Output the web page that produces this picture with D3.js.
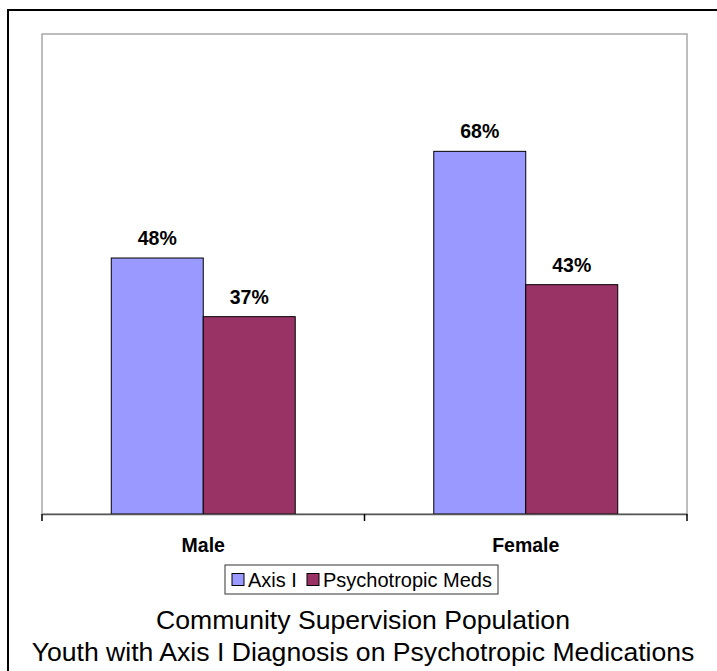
<!DOCTYPE html>
<html>
<head>
<meta charset="utf-8">
<script src="https://cdn.jsdelivr.net/npm/d3@7"></script>
<style>
  html, body { margin: 0; padding: 0; background: #fff; }
  svg { display: block; font-family: "Liberation Sans", Arial, sans-serif; }
</style>
</head>
<body>
<div id="chart"></div>
<script>
(function(){
  'use strict';

  // data
  var categories = ["Male", "Female"];
  var seriesNames = ["Axis I", "Psychotropic Meds"];
  var axisI = [0.48, 0.68];
  var psychMeds = [0.37, 0.43];
  var seriesColors = ["#9999ff", "#993366"];
  var titleLines = ["Community Supervision Population",
                    "Youth with Axis I Diagnosis on Psychotropic Medications"];

  var width = 717, height = 671;
  var plot = {left: 42, top: 34, right: 687, bottom: 514};

  var rows = categories.map(function(c, i){
    return {cat: c, values: [axisI[i], psychMeds[i]]};
  });

  var svg = d3.select("#chart")
    .append("svg")
    .attr("width", width)
    .attr("height", height);

  // outer frame (runs off the right and bottom edges)
  svg.append("rect")
    .attr("x", 8).attr("y", 10)
    .attr("width", width + 10).attr("height", height + 10)
    .attr("fill", "none")
    .attr("stroke", "#000")
    .attr("stroke-width", 2);

  var x0 = d3.scaleBand()
    .domain(categories)
    .range([plot.left, plot.right])
    .padding(0);

  var x1 = d3.scaleBand()
    .domain(seriesNames)
    .range([0, x0.bandwidth()])
    .paddingInner(0)
    .paddingOuter(0.753);

  var y = d3.scaleLinear()
    .domain([0, 0.9])
    .range([plot.bottom, plot.top]);

  // plot area border
  svg.append("rect")
    .attr("x", plot.left).attr("y", plot.top)
    .attr("width", plot.right - plot.left)
    .attr("height", plot.bottom - plot.top)
    .attr("fill", "none")
    .attr("stroke", "#a8a8a8")
    .attr("stroke-width", 1.5);

  // bars
  var groups = svg.selectAll("g.cat")
    .data(rows)
    .enter()
    .append("g")
    .attr("class", "cat")
    .attr("transform", function(d){ return "translate(" + x0(d.cat) + ",0)"; });

  groups.selectAll("rect")
    .data(function(d){
      return d.values.map(function(v, i){ return {name: seriesNames[i], value: v, idx: i}; });
    })
    .enter()
    .append("rect")
    .attr("x", function(d){ return x1(d.name); })
    .attr("y", function(d){ return y(d.value); })
    .attr("width", x1.bandwidth())
    .attr("height", function(d){ return y(0) - y(d.value); })
    .attr("fill", function(d){ return seriesColors[d.idx]; })
    .attr("stroke", "#000")
    .attr("stroke-width", 1);

  // value labels
  groups.selectAll("text.val")
    .data(function(d){
      return d.values.map(function(v, i){ return {name: seriesNames[i], value: v}; });
    })
    .enter()
    .append("text")
    .attr("class", "val")
    .attr("x", function(d){ return x1(d.name) + x1.bandwidth() / 2; })
    .attr("y", function(d){ return y(d.value) - 13; })
    .attr("text-anchor", "middle")
    .attr("font-size", "19.5px")
    .attr("font-weight", "bold")
    .attr("fill", "#000")
    .text(function(d){ return d3.format(".0%")(d.value); });

  // x axis with category labels
  var xAxis = svg.append("g")
    .attr("transform", "translate(0," + plot.bottom + ")")
    .call(d3.axisBottom(x0).tickSize(0).tickPadding(24));
  xAxis.select(".domain")
    .attr("stroke", "#555")
    .attr("stroke-width", 1.5);
  xAxis.selectAll("text")
    .attr("font-family", "Liberation Sans, Arial, sans-serif")
    .attr("font-size", "19.5px")
    .attr("font-weight", "bold")
    .attr("fill", "#000");

  // tick marks on band boundaries
  var tickPos = categories.map(function(c){ return x0(c); }).concat([plot.right]);
  svg.selectAll("line.tick")
    .data(tickPos)
    .enter()
    .append("line")
    .attr("class", "tick")
    .attr("x1", function(d){ return d; })
    .attr("x2", function(d){ return d; })
    .attr("y1", plot.bottom)
    .attr("y2", plot.bottom + 7)
    .attr("stroke", "#000")
    .attr("stroke-width", 1.5);

  // legend
  var legend = svg.append("g").attr("transform", "translate(225,565)");
  legend.append("rect")
    .attr("width", 273).attr("height", 29)
    .attr("fill", "#fff")
    .attr("stroke", "#333")
    .attr("stroke-width", 1);
  var legendX = [7, 82];
  var items = legend.selectAll("g.item")
    .data(seriesNames)
    .enter()
    .append("g")
    .attr("class", "item")
    .attr("transform", function(d, i){ return "translate(" + legendX[i] + ",0)"; });
  items.append("rect")
    .attr("y", 8.5).attr("width", 12).attr("height", 12)
    .attr("fill", function(d, i){ return seriesColors[i]; })
    .attr("stroke", "#000");
  items.append("text")
    .attr("x", 16).attr("y", 22)
    .attr("font-size", "20px")
    .attr("fill", "#000")
    .text(function(d){ return d; });

  // title below the chart
  svg.selectAll("text.title")
    .data(titleLines)
    .enter()
    .append("text")
    .attr("class", "title")
    .attr("x", 363)
    .attr("y", function(d, i){ return 629 + i * 32; })
    .attr("text-anchor", "middle")
    .attr("font-size", "26.6px")
    .attr("fill", "#000")
    .text(function(d){ return d; });
})();
</script>
</body>
</html>
